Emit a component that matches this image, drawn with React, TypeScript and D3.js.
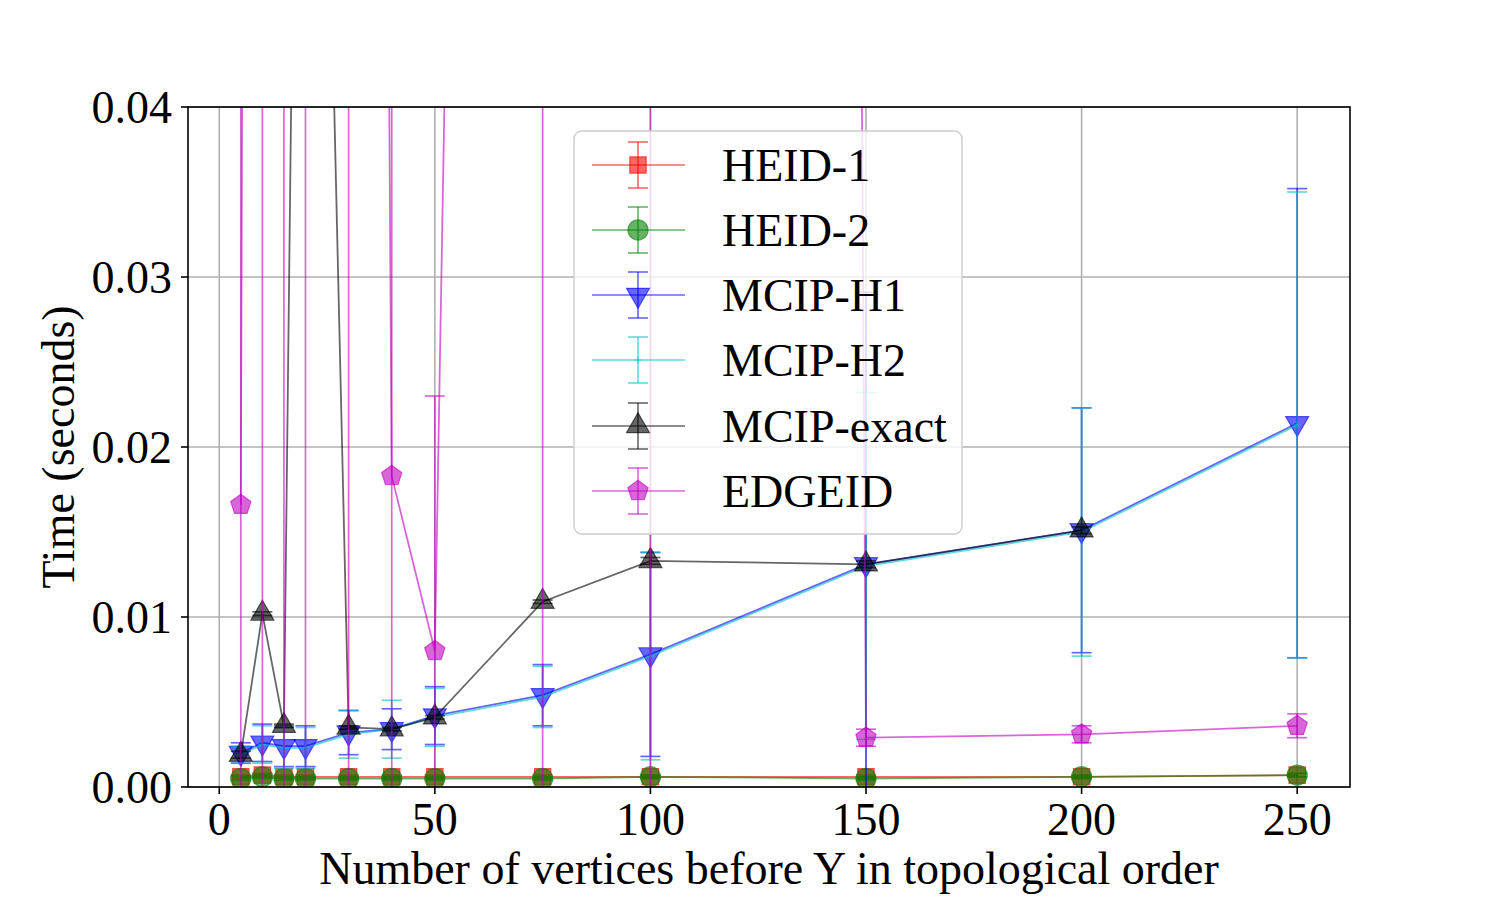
import React from 'react';
import * as d3 from 'd3';

const xValues = [5, 10, 15, 20, 30, 40, 50, 75, 100, 150, 200, 250];

const heid1Mean = [0.0006, 0.0007, 0.0006, 0.0006, 0.0006, 0.0006, 0.0006, 0.0006, 0.0006, 0.0006, 0.0006, 0.0007];
const heid1Err = [0.0001, 0.0001, 0.0001, 0.0001, 0.0001, 0.0001, 0.0001, 0.0001, 0.0001, 0.0001, 0.0001, 0.0001];
const heid2Mean = [0.0005, 0.0006, 0.0005, 0.0005, 0.0005, 0.0005, 0.0005, 0.0005, 0.0006, 0.0005, 0.0006, 0.0007];
const heid2Err = [0.0001, 0.0001, 0.0001, 0.0001, 0.0001, 0.0001, 0.0001, 0.0001, 0.0001, 0.0001, 0.0001, 0.0001];
const h1Mean = [0.0020, 0.0026, 0.0024, 0.0024, 0.0032, 0.0034, 0.0042, 0.0054, 0.0078, 0.0131, 0.0151, 0.0214];
const h1Err = [0.0006, 0.0011, 0.0012, 0.0012, 0.0013, 0.0012, 0.0017, 0.0018, 0.0060, 0.0160, 0.0072, 0.0138];
const h2Mean = [0.0019, 0.0025, 0.0023, 0.0023, 0.0031, 0.0034, 0.0041, 0.0053, 0.0077, 0.0130, 0.0150, 0.0213];
const h2Err = [0.0005, 0.0011, 0.0012, 0.0012, 0.0014, 0.0017, 0.0017, 0.0018, 0.0061, 0.0102, 0.0073, 0.0137];
const exactMean = [0.0019, 0.0102, 0.0036, 0.113, 0.0035, 0.0034, 0.0041, 0.0109, 0.0133, 0.0131, 0.0151, null];
const exactErr = [0.0002, 0.0001, 0.0001, 0.02, 0.0001, 0.0001, 0.0001, 0.0001, 0.0002, 0.0002, 0.0002, null];
const edgeMean = [0.0166, 0.4, 0.4, 0.4, 0.4, 0.0183, 0.0080, 0.37, 2.0, 0.0029, 0.0031, 0.0036];
const edgeErr = [0.05, 0.5, 0.5, 0.5, 0.5, 0.05, 0.015, 0.5, 2.5, 0.0005, 0.0005, 0.0007];

const seriesNames = ['HEID-1', 'HEID-2', 'MCIP-H1', 'MCIP-H2', 'MCIP-exact', 'EDGEID'];
const xTicks = [0, 50, 100, 150, 200, 250];
const yTicks = [0, 0.01, 0.02, 0.03, 0.04];

const symbolPentagon = {
  draw(ctx: any, size: number) {
    const r = Math.sqrt(size / (2.5 * Math.sin((2 * Math.PI) / 5)));
    for (let i = 0; i < 5; i++) {
      const a = -Math.PI / 2 + (i * 2 * Math.PI) / 5;
      const px = r * Math.cos(a);
      const py = r * Math.sin(a);
      if (i === 0) ctx.moveTo(px, py);
      else ctx.lineTo(px, py);
    }
    ctx.closePath();
  },
};

const symbolPlus = {
  draw(ctx: any, size: number) {
    const r = Math.sqrt(size) / 2;
    ctx.moveTo(-r, 0);
    ctx.lineTo(r, 0);
    ctx.moveTo(0, -r);
    ctx.lineTo(0, r);
  },
};

type Series = {
  name: string;
  mean: (number | null)[];
  err: (number | null)[];
  color: string;
  symbol: any;
  size: number;
  rotate: number;
  lineOnly?: boolean;
};

const series: Series[] = [
  { name: seriesNames[0], mean: heid1Mean, err: heid1Err, color: '#ff0000', symbol: d3.symbolSquare, size: 270, rotate: 0 },
  { name: seriesNames[1], mean: heid2Mean, err: heid2Err, color: '#008000', symbol: d3.symbolCircle, size: 320, rotate: 0 },
  { name: seriesNames[2], mean: h1Mean, err: h1Err, color: '#0000ff', symbol: d3.symbolTriangle, size: 230, rotate: 180 },
  { name: seriesNames[3], mean: h2Mean, err: h2Err, color: '#00bfbf', symbol: symbolPlus, size: 60, rotate: 0, lineOnly: true },
  { name: seriesNames[4], mean: exactMean, err: exactErr, color: '#000000', symbol: d3.symbolTriangle, size: 230, rotate: 0 },
  { name: seriesNames[5], mean: edgeMean, err: edgeErr, color: '#bf00bf', symbol: symbolPentagon, size: 270, rotate: 0 },
];

const FONT = '"Liberation Serif", "Times New Roman", serif';
const FS = 46;
const ALPHA = 0.6;

export default function App() {
  const left = 188, right = 1350, top = 107, bottom = 787;
  const x = d3.scaleLinear().domain([-7.25, 262.25]).range([left, right]);
  const y = d3.scaleLinear().domain([0, 0.04]).range([bottom, top]);
  const capHalf = 10;

  const lineGen = d3
    .line<[number, number | null]>()
    .defined((d) => d[1] !== null)
    .x((d) => x(d[0]))
    .y((d) => y(d[1] as number));

  const legendX = 574, legendY = 131, legendW = 388, legendH = 403;
  const legendRows = [165, 230, 295, 360, 426, 491];

  return (
    <svg width={1500} height={900} style={{ position: 'absolute', left: 0, top: 0, background: '#fff' }} fontFamily={FONT}>
      <defs>
        <clipPath id="plotclip">
          <rect x={left} y={top} width={right - left} height={bottom - top} />
        </clipPath>
      </defs>
      <rect x={0} y={0} width={1500} height={900} fill="#fff" />
      {/* grid */}
      <g stroke="#b0b0b0" strokeWidth={1.6}>
        {xTicks.map((t) => (
          <line key={'gx' + t} x1={x(t)} x2={x(t)} y1={top} y2={bottom} />
        ))}
        {yTicks.map((t) => (
          <line key={'gy' + t} x1={left} x2={right} y1={y(t)} y2={y(t)} />
        ))}
      </g>
      {/* data */}
      <g clipPath="url(#plotclip)">
        {series.map((s) => {
          const pts: [number, number | null][] = xValues.map((xv, i) => [xv, s.mean[i]]);
          return (
            <g key={s.name}>
              <path d={lineGen(pts) || ''} fill="none" stroke={s.color} strokeOpacity={ALPHA} strokeWidth={1.8} />
              {xValues.map((xv, i) => {
                const m = s.mean[i];
                const e = s.err[i];
                if (m === null || e === null) return null;
                const cx = x(xv);
                const y1 = y(m - e);
                const y2 = y(m + e);
                return (
                  <g key={'e' + i} stroke={s.color} strokeOpacity={ALPHA} strokeWidth={1.7}>
                    <line x1={cx} x2={cx} y1={y1} y2={y2} />
                    <line x1={cx - capHalf} x2={cx + capHalf} y1={y1} y2={y1} />
                    <line x1={cx - capHalf} x2={cx + capHalf} y1={y2} y2={y2} />
                  </g>
                );
              })}
              {xValues.map((xv, i) => {
                const m = s.mean[i];
                if (m === null) return null;
                const d = d3.symbol().type(s.symbol).size(s.size)() || '';
                return (
                  <path
                    key={'m' + i}
                    d={d}
                    transform={`translate(${x(xv)},${y(m)}) rotate(${s.rotate})`}
                    fill={s.lineOnly ? 'none' : s.color}
                    fillOpacity={ALPHA}
                    stroke={s.color}
                    strokeOpacity={ALPHA}
                    strokeWidth={1.2}
                  />
                );
              })}
            </g>
          );
        })}
      </g>
      {/* frame */}
      <rect x={left} y={top} width={right - left} height={bottom - top} fill="none" stroke="#000" strokeWidth={1.6} />
      {/* x ticks */}
      {xTicks.map((t) => (
        <g key={'xt' + t}>
          <line x1={x(t)} x2={x(t)} y1={bottom} y2={bottom + 7} stroke="#000" strokeWidth={1.6} />
          <text x={x(t)} y={bottom + 48} textAnchor="middle" fontSize={FS} fill="#000">
            {t}
          </text>
        </g>
      ))}
      {/* y ticks */}
      {yTicks.map((t) => (
        <g key={'yt' + t}>
          <line x1={left - 7} x2={left} y1={y(t)} y2={y(t)} stroke="#000" strokeWidth={1.6} />
          <text x={left - 16} y={y(t)} dy="0.35em" textAnchor="end" fontSize={FS} fill="#000">
            {d3.format('.2f')(t)}
          </text>
        </g>
      ))}
      {/* axis labels */}
      <text x={(left + right) / 2} y={884} textAnchor="middle" fontSize={FS} fill="#000">
        Number of vertices before Y in topological order
      </text>
      <text
        transform={`translate(74,${(top + bottom) / 2}) rotate(-90)`}
        textAnchor="middle"
        fontSize={FS}
        fill="#000"
      >
        Time (seconds)
      </text>
      {/* legend */}
      <rect x={legendX} y={legendY} width={legendW} height={legendH} rx={8} fill="#fff" fillOpacity={0.8} stroke="#cccccc" strokeWidth={1.4} />
      {series.map((s, i) => {
        const ly = legendRows[i];
        const hx = 638;
        const d = d3.symbol().type(s.symbol).size(s.size)() || '';
        return (
          <g key={'lg' + s.name}>
            <g stroke={s.color} strokeOpacity={ALPHA} strokeWidth={1.6}>
              <line x1={592} x2={685} y1={ly} y2={ly} />
              <line x1={hx} x2={hx} y1={ly - 23} y2={ly + 23} />
              <line x1={hx - capHalf} x2={hx + capHalf} y1={ly - 23} y2={ly - 23} />
              <line x1={hx - capHalf} x2={hx + capHalf} y1={ly + 23} y2={ly + 23} />
            </g>
            <path
              d={d}
              transform={`translate(${hx},${ly}) rotate(${s.rotate})`}
              fill={s.lineOnly ? 'none' : s.color}
              fillOpacity={ALPHA}
              stroke={s.color}
              strokeOpacity={ALPHA}
              strokeWidth={1.2}
            />
            <text x={722} y={ly} dy="0.35em" fontSize={FS} fill="#000">
              {s.name}
            </text>
          </g>
        );
      })}
    </svg>
  );
}
